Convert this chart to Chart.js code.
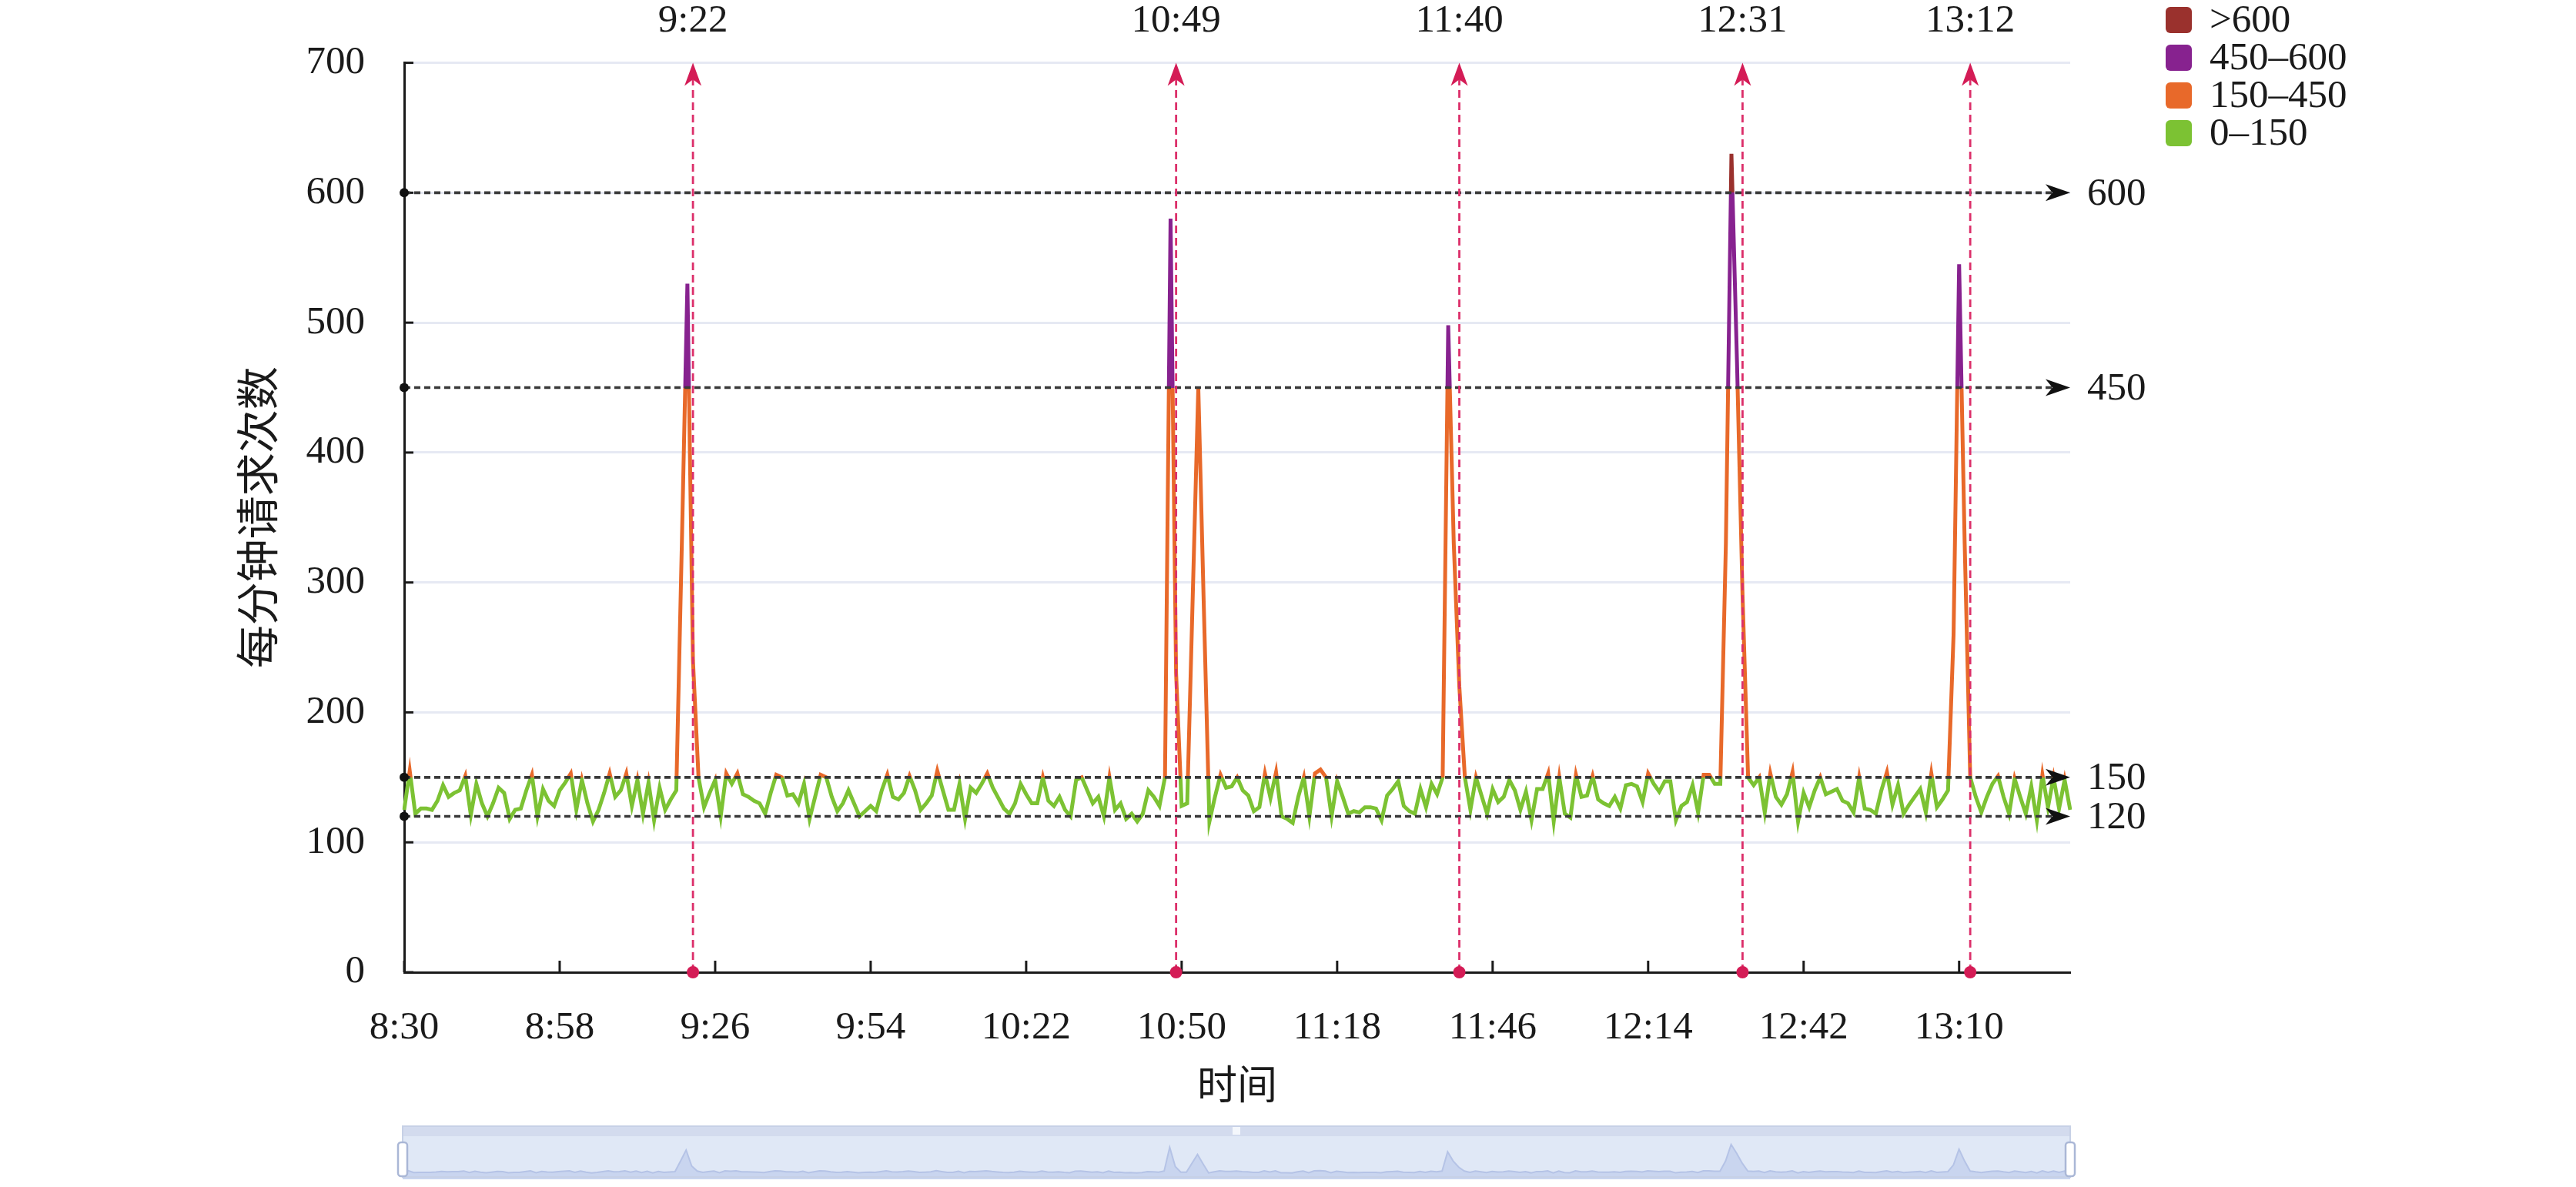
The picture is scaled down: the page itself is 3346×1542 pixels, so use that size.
<!DOCTYPE html>
<html><head><meta charset="utf-8">
<script src="https://cdn.jsdelivr.net/npm/chart.js@4.4.1/dist/chart.umd.min.js"></script>
<style>
html,body{margin:0;padding:0;background:#fff;}
#wrap{position:relative;width:3346px;height:1542px;overflow:hidden;}
#main{position:absolute;left:0;top:0;}
#zoom{position:absolute;left:510px;top:1462px;}
</style></head><body>
<div id="wrap"><canvas id="main" width="3346" height="1542"></canvas><canvas id="zoom" width="2192" height="70"></canvas></div>
<script>
// ---------- data ----------
const startTime = '8:30';
const requests = [
125,155,122,126,126,125,132,144,135,138,
140,151,121,145,130,120,130,142,138,118,
125,126,140,152,120,141,132,128,140,146,
153,125,148,130,116,125,138,153,135,140,
153,128,148,122,146,117,142,125,133,140,
330,530,240,150,127,138,148,120,153,145,
153,137,135,132,130,122,138,152,150,136,
137,130,145,118,135,152,150,135,124,130,
140,130,120,124,128,124,140,152,135,133,
138,151,140,125,130,136,155,140,125,125,
145,118,142,138,145,153,142,134,126,122,
130,145,137,130,130,150,132,128,135,125,
120,148,150,140,130,135,120,150,125,130,
118,122,116,122,140,135,128,150,580,230,
128,130,290,450,280,116,135,152,142,143,
150,140,136,124,127,153,134,154,120,118,
115,135,150,120,153,156,150,120,147,135,
122,124,123,127,127,126,117,136,141,147,
128,124,122,141,127,145,137,150,498,330,
220,150,125,150,136,122,141,131,135,148,
140,125,139,117,141,141,153,116,150,122,
119,152,135,136,151,133,130,128,135,126,
144,145,143,131,153,145,139,147,147,117,
128,131,144,123,152,152,145,145,330,630,
470,290,150,144,150,123,153,135,129,137,
154,116,138,127,140,150,137,139,141,132,
130,123,150,126,125,122,140,154,129,144,
122,129,135,141,123,153,127,133,140,260,
545,330,150,135,123,135,145,151,135,122,
149,135,122,143,117,152,127,150,126,148,
125
];
const xTickLabels = ['8:30','8:58','9:26','9:54','10:22','10:50','11:18','11:46','12:14','12:42','13:10'];
const yTicks = [0,100,200,300,400,500,600,700];
const markTimes = ['9:22','10:49','11:40','12:31','13:12'];
const thresholdLines = [600,450,150,120];
const bandLabels = ['>600','450–600','150–450','0–150'];
const bandColors = ['#9a312d','#87228f','#e8692a','#7cc233'];
const bandBreaks = [600,450,150];
const yTitle = '每分钟请求次数';
const xTitle = '时间';

// ---------- helpers ----------
function toMin(t){const p=t.split(':').map(Number);return p[0]*60+p[1];}
function fmt(m){return Math.floor(m/60)+':'+String(m%60).padStart(2,'0');}
const categories = requests.map((_,i)=>fmt(toMin(startTime)+i));

const SERIF = '"Liberation Serif","Noto Sans CJK SC",serif';
const TXT = '#1a1a1a';

function bandGradient(ctx){
  const chart = ctx.chart; const ca = chart.chartArea;
  if(!ca) return bandColors[3];
  const y = chart.scales.y;
  const g = chart.ctx.createLinearGradient(0, ca.bottom, 0, ca.top);
  const f = v => Math.min(1, Math.max(0,(ca.bottom - y.getPixelForValue(v))/(ca.bottom-ca.top)));
  const c150=f(bandBreaks[2]), c450=f(bandBreaks[1]), c600=f(bandBreaks[0]);
  g.addColorStop(0, bandColors[3]); g.addColorStop(c150, bandColors[3]);
  g.addColorStop(c150, bandColors[2]); g.addColorStop(c450, bandColors[2]);
  g.addColorStop(c450, bandColors[1]); g.addColorStop(c600, bandColors[1]);
  g.addColorStop(c600, bandColors[0]); g.addColorStop(1, bandColors[0]);
  return g;
}

function arrowHead(ctx, tx, ty, dir, L, W){
  ctx.beginPath();
  if(dir==='right'){
    ctx.moveTo(tx,ty); ctx.lineTo(tx-L,ty-W/2); ctx.lineTo(tx-L*0.72,ty); ctx.lineTo(tx-L,ty+W/2);
  }else{
    ctx.moveTo(tx,ty); ctx.lineTo(tx-W/2,ty+L); ctx.lineTo(tx,ty+L*0.72); ctx.lineTo(tx+W/2,ty+L);
  }
  ctx.closePath(); ctx.fill();
}

const decorations = {
  id:'decorations',
  afterDatasetsDraw(chart){
    const {ctx, chartArea:ca, scales:{x,y}} = chart;
    ctx.save();
    // inward tick marks
    ctx.strokeStyle = TXT; ctx.lineWidth = 3; ctx.setLineDash([]);
    yTicks.forEach(v=>{const py=y.getPixelForValue(v); ctx.beginPath(); ctx.moveTo(ca.left,py); ctx.lineTo(ca.left+12,py); ctx.stroke();});
    xTickLabels.forEach(l=>{const px=x.getPixelForValue(categories.indexOf(l)); ctx.beginPath(); ctx.moveTo(px,ca.bottom); ctx.lineTo(px,ca.bottom-15); ctx.stroke();});
    // horizontal threshold lines
    thresholdLines.forEach(v=>{
      const py = y.getPixelForValue(v);
      ctx.strokeStyle='#3a3a3a'; ctx.lineWidth=3.6; ctx.setLineDash([8,5]);
      ctx.beginPath(); ctx.moveTo(ca.left, py); ctx.lineTo(ca.right-20, py); ctx.stroke();
      ctx.setLineDash([]); ctx.fillStyle='#111';
      ctx.beginPath(); ctx.arc(ca.left, py, 6, 0, Math.PI*2); ctx.fill();
      arrowHead(ctx, ca.right, py, 'right', 32, 22);
      ctx.fillStyle=TXT; ctx.font='51px '+SERIF; ctx.textAlign='left'; ctx.textBaseline='middle';
      ctx.fillText(String(v), ca.right+22, py+2);
    });
    // vertical markers
    markTimes.forEach(t=>{
      const px = x.getPixelForValue(categories.indexOf(t));
      ctx.strokeStyle='#dc2f6a'; ctx.lineWidth=2.8; ctx.setLineDash([10,6]);
      ctx.beginPath(); ctx.moveTo(px, ca.bottom); ctx.lineTo(px, ca.top+20); ctx.stroke();
      ctx.setLineDash([]); ctx.fillStyle='#d41c56';
      arrowHead(ctx, px, ca.top, 'up', 30, 22);
      ctx.beginPath(); ctx.arc(px, ca.bottom, 8, 0, Math.PI*2); ctx.fill();
      ctx.fillStyle=TXT; ctx.font='51px '+SERIF; ctx.textAlign='center'; ctx.textBaseline='middle';
      ctx.fillText(t, px, 28);
    });
    // legend
    const lx = 2813, rows=[26,75,124,173];
    bandLabels.forEach((lab,i)=>{
      ctx.fillStyle=bandColors[i];
      ctx.beginPath(); ctx.roundRect(lx, rows[i]-17, 34, 34, 6); ctx.fill();
      ctx.fillStyle=TXT; ctx.font='51px '+SERIF; ctx.textAlign='left'; ctx.textBaseline='middle';
      ctx.fillText(lab, lx+57, rows[i]+2);
    });
    ctx.restore();
  }
};

new Chart(document.getElementById('main'), {
  type:'line',
  data:{labels:categories, datasets:[{
    data:requests, borderColor:bandGradient, borderWidth:5, pointRadius:0, tension:0, fill:false
  }]},
  options:{
    responsive:false, devicePixelRatio:1, animation:false, events:[],
    layout:{padding:{left:0, right:657, top:79, bottom:79}},
    plugins:{legend:{display:false}, tooltip:{enabled:false}},
    scales:{
      x:{type:'category', offset:false,
        grid:{display:true, drawOnChartArea:false, drawTicks:false},
        border:{display:true, color:TXT, width:3},
        ticks:{autoSkip:false, maxRotation:0, minRotation:0, padding:42, color:TXT,
          font:{family:SERIF, size:51},
          callback:(v,i)=> xTickLabels.includes(categories[i]) ? categories[i] : null},
        title:{display:true, text:xTitle, color:TXT, font:{family:SERIF, size:52}, padding:{top:0,bottom:17}},
        afterFit(s){s.height=200;}
      },
      y:{min:0, max:700,
        grid:{color:'#e6e9f3', lineWidth:3, drawTicks:false},
        border:{display:true, color:TXT, width:3},
        ticks:{stepSize:100, padding:51, color:TXT, font:{family:SERIF, size:51}},
        title:{display:true, text:yTitle, color:TXT, font:{family:SERIF, size:56}, padding:{top:307,bottom:0}},
        afterFit(s){s.width=525;}
      }
    }
  },
  plugins:[decorations]
});

// ---------- data zoom slider ----------
const sliderDeco = {
  id:'sliderDeco',
  beforeDraw(chart){
    const {ctx} = chart; const L=13, W=2166;
    ctx.save();
    ctx.fillStyle='#e0e8f6'; ctx.fillRect(L,0,W,68);
    ctx.fillStyle='#d3dbee'; ctx.fillRect(L,0,W,14);
    ctx.fillStyle='#f4f7fc'; ctx.fillRect(L+W/2-5,2,10,10);
    ctx.restore();
  },
  afterDraw(chart){
    const {ctx} = chart; const L=13, W=2166;
    ctx.save();
    ctx.strokeStyle='#c7d1e6'; ctx.lineWidth=2; ctx.strokeRect(L,1,W,66);
    [L, L+W].forEach(hx=>{
      ctx.fillStyle='#ffffff'; ctx.strokeStyle='#aab7d6'; ctx.lineWidth=2.5;
      ctx.beginPath(); ctx.roundRect(hx-6, 22, 12, 44, 4); ctx.fill(); ctx.stroke();
    });
    ctx.restore();
  }
};
new Chart(document.getElementById('zoom'), {
  type:'line',
  data:{labels:categories, datasets:[{data:requests, borderColor:'#b5c3e6', borderWidth:2,
    backgroundColor:'#c9d5ef', fill:'origin', pointRadius:0, tension:0}]},
  options:{responsive:false, devicePixelRatio:1, animation:false, events:[],
    layout:{padding:{left:13,right:13,top:14,bottom:0}},
    plugins:{legend:{display:false}, tooltip:{enabled:false}},
    scales:{x:{display:false, offset:false}, y:{display:false, min:0, max:780}}},
  plugins:[sliderDeco]
});
</script>
</body></html>
